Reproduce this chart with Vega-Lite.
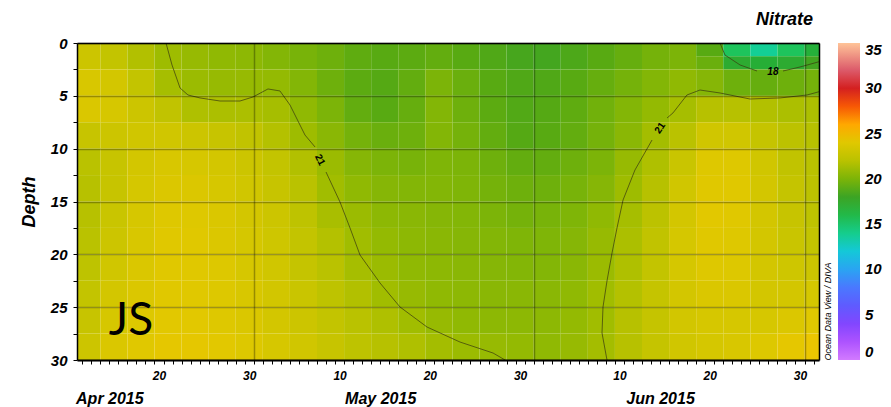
{
"$schema": "https://vega.github.io/schema/vega-lite/v6.json",
"width": 742, "height": 317,
"autosize": {"type": "none"},
"padding": {"left": 77, "top": 43, "right": 72, "bottom": 47},
"background": "white",
"config": {"view": {"stroke": null}, "font": "Liberation Sans"},
"title": {"text": "Nitrate", "anchor": "end", "frame": "group", "font": "Liberation Sans", "fontSize": 18, "fontWeight": "bold", "fontStyle": "italic", "color": "#000", "offset": 7, "dx": -6},
"resolve": {"axis": {"x": "independent", "y": "independent"}},
"datasets": {
"grid": [
{"d":"2015-04-11","e":"2015-04-14","z":0,"z2":2.5,"n":22.8},{"d":"2015-04-14","e":"2015-04-17","z":0,"z2":2.5,"n":22.4},{"d":"2015-04-17","e":"2015-04-20","z":0,"z2":2.5,"n":21.7},{"d":"2015-04-20","e":"2015-04-23","z":0,"z2":2.5,"n":21.0},{"d":"2015-04-23","e":"2015-04-26","z":0,"z2":2.5,"n":20.8},{"d":"2015-04-26","e":"2015-04-29","z":0,"z2":2.5,"n":20.6},{"d":"2015-04-29","e":"2015-05-02","z":0,"z2":2.5,"n":20.5},{"d":"2015-05-02","e":"2015-05-05","z":0,"z2":2.5,"n":20.2},{"d":"2015-05-05","e":"2015-05-08","z":0,"z2":2.5,"n":19.9},{"d":"2015-05-08","e":"2015-05-11","z":0,"z2":2.5,"n":19.6},{"d":"2015-05-11","e":"2015-05-14","z":0,"z2":2.5,"n":19.2},{"d":"2015-05-14","e":"2015-05-17","z":0,"z2":2.5,"n":19.0},{"d":"2015-05-17","e":"2015-05-20","z":0,"z2":2.5,"n":19.1},{"d":"2015-05-20","e":"2015-05-23","z":0,"z2":2.5,"n":19.3},{"d":"2015-05-23","e":"2015-05-26","z":0,"z2":2.5,"n":19.0},{"d":"2015-05-26","e":"2015-05-29","z":0,"z2":2.5,"n":18.7},{"d":"2015-05-29","e":"2015-06-01","z":0,"z2":2.5,"n":18.4},{"d":"2015-06-01","e":"2015-06-04","z":0,"z2":2.5,"n":18.3},{"d":"2015-06-04","e":"2015-06-07","z":0,"z2":2.5,"n":18.6},{"d":"2015-06-07","e":"2015-06-10","z":0,"z2":2.5,"n":19.0},{"d":"2015-06-10","e":"2015-06-13","z":0,"z2":2.5,"n":19.4},{"d":"2015-06-13","e":"2015-06-16","z":0,"z2":2.5,"n":19.8},{"d":"2015-06-16","e":"2015-06-19","z":0,"z2":2.5,"n":20.0},
{"d":"2015-06-19","e":"2015-06-22","z":0,"z2":1.25,"n":19.0},{"d":"2015-06-22","e":"2015-06-25","z":0,"z2":1.25,"n":15.0},{"d":"2015-06-25","e":"2015-06-28","z":0,"z2":1.25,"n":13.8},{"d":"2015-06-28","e":"2015-07-01","z":0,"z2":1.25,"n":15.0},{"d":"2015-07-01","e":"2015-07-04","z":0,"z2":1.25,"n":16.8},
{"d":"2015-06-19","e":"2015-06-22","z":1.25,"z2":2.5,"n":19.5},{"d":"2015-06-22","e":"2015-06-25","z":1.25,"z2":2.5,"n":17.3},{"d":"2015-06-25","e":"2015-06-28","z":1.25,"z2":2.5,"n":17.0},{"d":"2015-06-28","e":"2015-07-01","z":1.25,"z2":2.5,"n":17.3},{"d":"2015-07-01","e":"2015-07-04","z":1.25,"z2":2.5,"n":18.2},
{"d":"2015-04-11","e":"2015-04-14","z":2.5,"z2":5,"n":23.5},{"d":"2015-04-14","e":"2015-04-17","z":2.5,"z2":5,"n":23.2},{"d":"2015-04-17","e":"2015-04-20","z":2.5,"z2":5,"n":22.4},{"d":"2015-04-20","e":"2015-04-23","z":2.5,"z2":5,"n":21.3},{"d":"2015-04-23","e":"2015-04-26","z":2.5,"z2":5,"n":20.9},{"d":"2015-04-26","e":"2015-04-29","z":2.5,"z2":5,"n":20.8},{"d":"2015-04-29","e":"2015-05-02","z":2.5,"z2":5,"n":20.8},{"d":"2015-05-02","e":"2015-05-05","z":2.5,"z2":5,"n":20.7},{"d":"2015-05-05","e":"2015-05-08","z":2.5,"z2":5,"n":20.2},{"d":"2015-05-08","e":"2015-05-11","z":2.5,"z2":5,"n":19.6},{"d":"2015-05-11","e":"2015-05-14","z":2.5,"z2":5,"n":19.1},{"d":"2015-05-14","e":"2015-05-17","z":2.5,"z2":5,"n":18.9},{"d":"2015-05-17","e":"2015-05-20","z":2.5,"z2":5,"n":19.3},{"d":"2015-05-20","e":"2015-05-23","z":2.5,"z2":5,"n":20.0},{"d":"2015-05-23","e":"2015-05-26","z":2.5,"z2":5,"n":19.5},{"d":"2015-05-26","e":"2015-05-29","z":2.5,"z2":5,"n":19.0},{"d":"2015-05-29","e":"2015-06-01","z":2.5,"z2":5,"n":18.7},{"d":"2015-06-01","e":"2015-06-04","z":2.5,"z2":5,"n":18.7},{"d":"2015-06-04","e":"2015-06-07","z":2.5,"z2":5,"n":19.0},{"d":"2015-06-07","e":"2015-06-10","z":2.5,"z2":5,"n":19.4},{"d":"2015-06-10","e":"2015-06-13","z":2.5,"z2":5,"n":19.8},{"d":"2015-06-13","e":"2015-06-16","z":2.5,"z2":5,"n":20.2},{"d":"2015-06-16","e":"2015-06-19","z":2.5,"z2":5,"n":20.6},{"d":"2015-06-19","e":"2015-06-22","z":2.5,"z2":5,"n":20.3},{"d":"2015-06-22","e":"2015-06-25","z":2.5,"z2":5,"n":19.6},{"d":"2015-06-25","e":"2015-06-28","z":2.5,"z2":5,"n":19.4},{"d":"2015-06-28","e":"2015-07-01","z":2.5,"z2":5,"n":19.6},{"d":"2015-07-01","e":"2015-07-04","z":2.5,"z2":5,"n":19.8},
{"d":"2015-04-11","e":"2015-04-14","z":5,"z2":7.5,"n":23.6},{"d":"2015-04-14","e":"2015-04-17","z":5,"z2":7.5,"n":23.4},{"d":"2015-04-17","e":"2015-04-20","z":5,"z2":7.5,"n":22.8},{"d":"2015-04-20","e":"2015-04-23","z":5,"z2":7.5,"n":22.3},{"d":"2015-04-23","e":"2015-04-26","z":5,"z2":7.5,"n":21.6},{"d":"2015-04-26","e":"2015-04-29","z":5,"z2":7.5,"n":21.5},{"d":"2015-04-29","e":"2015-05-02","z":5,"z2":7.5,"n":21.5},{"d":"2015-05-02","e":"2015-05-05","z":5,"z2":7.5,"n":21.3},{"d":"2015-05-05","e":"2015-05-08","z":5,"z2":7.5,"n":20.6},{"d":"2015-05-08","e":"2015-05-11","z":5,"z2":7.5,"n":20.0},{"d":"2015-05-11","e":"2015-05-14","z":5,"z2":7.5,"n":19.3},{"d":"2015-05-14","e":"2015-05-17","z":5,"z2":7.5,"n":19.0},{"d":"2015-05-17","e":"2015-05-20","z":5,"z2":7.5,"n":19.4},{"d":"2015-05-20","e":"2015-05-23","z":5,"z2":7.5,"n":20.2},{"d":"2015-05-23","e":"2015-05-26","z":5,"z2":7.5,"n":19.6},{"d":"2015-05-26","e":"2015-05-29","z":5,"z2":7.5,"n":19.1},{"d":"2015-05-29","e":"2015-06-01","z":5,"z2":7.5,"n":18.8},{"d":"2015-06-01","e":"2015-06-04","z":5,"z2":7.5,"n":18.9},{"d":"2015-06-04","e":"2015-06-07","z":5,"z2":7.5,"n":19.2},{"d":"2015-06-07","e":"2015-06-10","z":5,"z2":7.5,"n":19.7},{"d":"2015-06-10","e":"2015-06-13","z":5,"z2":7.5,"n":20.2},{"d":"2015-06-13","e":"2015-06-16","z":5,"z2":7.5,"n":20.7},{"d":"2015-06-16","e":"2015-06-19","z":5,"z2":7.5,"n":21.3},{"d":"2015-06-19","e":"2015-06-22","z":5,"z2":7.5,"n":21.9},{"d":"2015-06-22","e":"2015-06-25","z":5,"z2":7.5,"n":21.9},{"d":"2015-06-25","e":"2015-06-28","z":5,"z2":7.5,"n":21.7},{"d":"2015-06-28","e":"2015-07-01","z":5,"z2":7.5,"n":21.5},{"d":"2015-07-01","e":"2015-07-04","z":5,"z2":7.5,"n":21.5},
{"d":"2015-04-11","e":"2015-04-14","z":7.5,"z2":10,"n":22.6},{"d":"2015-04-14","e":"2015-04-17","z":7.5,"z2":10,"n":22.8},{"d":"2015-04-17","e":"2015-04-20","z":7.5,"z2":10,"n":23.0},{"d":"2015-04-20","e":"2015-04-23","z":7.5,"z2":10,"n":23.0},{"d":"2015-04-23","e":"2015-04-26","z":7.5,"z2":10,"n":22.8},{"d":"2015-04-26","e":"2015-04-29","z":7.5,"z2":10,"n":22.6},{"d":"2015-04-29","e":"2015-05-02","z":7.5,"z2":10,"n":22.3},{"d":"2015-05-02","e":"2015-05-05","z":7.5,"z2":10,"n":21.8},{"d":"2015-05-05","e":"2015-05-08","z":7.5,"z2":10,"n":21.0},{"d":"2015-05-08","e":"2015-05-11","z":7.5,"z2":10,"n":20.4},{"d":"2015-05-11","e":"2015-05-14","z":7.5,"z2":10,"n":19.8},{"d":"2015-05-14","e":"2015-05-17","z":7.5,"z2":10,"n":19.5},{"d":"2015-05-17","e":"2015-05-20","z":7.5,"z2":10,"n":19.6},{"d":"2015-05-20","e":"2015-05-23","z":7.5,"z2":10,"n":20.2},{"d":"2015-05-23","e":"2015-05-26","z":7.5,"z2":10,"n":19.8},{"d":"2015-05-26","e":"2015-05-29","z":7.5,"z2":10,"n":19.3},{"d":"2015-05-29","e":"2015-06-01","z":7.5,"z2":10,"n":18.9},{"d":"2015-06-01","e":"2015-06-04","z":7.5,"z2":10,"n":19.0},{"d":"2015-06-04","e":"2015-06-07","z":7.5,"z2":10,"n":19.3},{"d":"2015-06-07","e":"2015-06-10","z":7.5,"z2":10,"n":19.8},{"d":"2015-06-10","e":"2015-06-13","z":7.5,"z2":10,"n":20.4},{"d":"2015-06-13","e":"2015-06-16","z":7.5,"z2":10,"n":21.2},{"d":"2015-06-16","e":"2015-06-19","z":7.5,"z2":10,"n":22.0},{"d":"2015-06-19","e":"2015-06-22","z":7.5,"z2":10,"n":23.0},{"d":"2015-06-22","e":"2015-06-25","z":7.5,"z2":10,"n":23.0},{"d":"2015-06-25","e":"2015-06-28","z":7.5,"z2":10,"n":22.5},{"d":"2015-06-28","e":"2015-07-01","z":7.5,"z2":10,"n":22.1},{"d":"2015-07-01","e":"2015-07-04","z":7.5,"z2":10,"n":21.9},
{"d":"2015-04-11","e":"2015-04-14","z":10,"z2":12.5,"n":22.0},{"d":"2015-04-14","e":"2015-04-17","z":10,"z2":12.5,"n":22.6},{"d":"2015-04-17","e":"2015-04-20","z":10,"z2":12.5,"n":23.2},{"d":"2015-04-20","e":"2015-04-23","z":10,"z2":12.5,"n":23.5},{"d":"2015-04-23","e":"2015-04-26","z":10,"z2":12.5,"n":23.4},{"d":"2015-04-26","e":"2015-04-29","z":10,"z2":12.5,"n":23.2},{"d":"2015-04-29","e":"2015-05-02","z":10,"z2":12.5,"n":22.8},{"d":"2015-05-02","e":"2015-05-05","z":10,"z2":12.5,"n":22.4},{"d":"2015-05-05","e":"2015-05-08","z":10,"z2":12.5,"n":21.7},{"d":"2015-05-08","e":"2015-05-11","z":10,"z2":12.5,"n":20.9},{"d":"2015-05-11","e":"2015-05-14","z":10,"z2":12.5,"n":20.3},{"d":"2015-05-14","e":"2015-05-17","z":10,"z2":12.5,"n":20.0},{"d":"2015-05-17","e":"2015-05-20","z":10,"z2":12.5,"n":19.9},{"d":"2015-05-20","e":"2015-05-23","z":10,"z2":12.5,"n":20.1},{"d":"2015-05-23","e":"2015-05-26","z":10,"z2":12.5,"n":20.0},{"d":"2015-05-26","e":"2015-05-29","z":10,"z2":12.5,"n":19.6},{"d":"2015-05-29","e":"2015-06-01","z":10,"z2":12.5,"n":19.3},{"d":"2015-06-01","e":"2015-06-04","z":10,"z2":12.5,"n":19.3},{"d":"2015-06-04","e":"2015-06-07","z":10,"z2":12.5,"n":19.6},{"d":"2015-06-07","e":"2015-06-10","z":10,"z2":12.5,"n":20.0},{"d":"2015-06-10","e":"2015-06-13","z":10,"z2":12.5,"n":20.8},{"d":"2015-06-13","e":"2015-06-16","z":10,"z2":12.5,"n":21.6},{"d":"2015-06-16","e":"2015-06-19","z":10,"z2":12.5,"n":22.7},{"d":"2015-06-19","e":"2015-06-22","z":10,"z2":12.5,"n":23.9},{"d":"2015-06-22","e":"2015-06-25","z":10,"z2":12.5,"n":23.9},{"d":"2015-06-25","e":"2015-06-28","z":10,"z2":12.5,"n":23.0},{"d":"2015-06-28","e":"2015-07-01","z":10,"z2":12.5,"n":22.3},{"d":"2015-07-01","e":"2015-07-04","z":10,"z2":12.5,"n":22.0},
{"d":"2015-04-11","e":"2015-04-14","z":12.5,"z2":15,"n":21.9},{"d":"2015-04-14","e":"2015-04-17","z":12.5,"z2":15,"n":22.6},{"d":"2015-04-17","e":"2015-04-20","z":12.5,"z2":15,"n":23.3},{"d":"2015-04-20","e":"2015-04-23","z":12.5,"z2":15,"n":23.7},{"d":"2015-04-23","e":"2015-04-26","z":12.5,"z2":15,"n":23.7},{"d":"2015-04-26","e":"2015-04-29","z":12.5,"z2":15,"n":23.4},{"d":"2015-04-29","e":"2015-05-02","z":12.5,"z2":15,"n":23.0},{"d":"2015-05-02","e":"2015-05-05","z":12.5,"z2":15,"n":22.6},{"d":"2015-05-05","e":"2015-05-08","z":12.5,"z2":15,"n":22.0},{"d":"2015-05-08","e":"2015-05-11","z":12.5,"z2":15,"n":21.1},{"d":"2015-05-11","e":"2015-05-14","z":12.5,"z2":15,"n":20.6},{"d":"2015-05-14","e":"2015-05-17","z":12.5,"z2":15,"n":20.3},{"d":"2015-05-17","e":"2015-05-20","z":12.5,"z2":15,"n":20.2},{"d":"2015-05-20","e":"2015-05-23","z":12.5,"z2":15,"n":20.2},{"d":"2015-05-23","e":"2015-05-26","z":12.5,"z2":15,"n":20.1},{"d":"2015-05-26","e":"2015-05-29","z":12.5,"z2":15,"n":19.8},{"d":"2015-05-29","e":"2015-06-01","z":12.5,"z2":15,"n":19.6},{"d":"2015-06-01","e":"2015-06-04","z":12.5,"z2":15,"n":19.6},{"d":"2015-06-04","e":"2015-06-07","z":12.5,"z2":15,"n":19.9},{"d":"2015-06-07","e":"2015-06-10","z":12.5,"z2":15,"n":20.3},{"d":"2015-06-10","e":"2015-06-13","z":12.5,"z2":15,"n":21.0},{"d":"2015-06-13","e":"2015-06-16","z":12.5,"z2":15,"n":21.9},{"d":"2015-06-16","e":"2015-06-19","z":12.5,"z2":15,"n":23.0},{"d":"2015-06-19","e":"2015-06-22","z":12.5,"z2":15,"n":24.0},{"d":"2015-06-22","e":"2015-06-25","z":12.5,"z2":15,"n":24.0},{"d":"2015-06-25","e":"2015-06-28","z":12.5,"z2":15,"n":23.2},{"d":"2015-06-28","e":"2015-07-01","z":12.5,"z2":15,"n":22.5},{"d":"2015-07-01","e":"2015-07-04","z":12.5,"z2":15,"n":22.1},
{"d":"2015-04-11","e":"2015-04-14","z":15,"z2":17.5,"n":21.9},{"d":"2015-04-14","e":"2015-04-17","z":15,"z2":17.5,"n":22.7},{"d":"2015-04-17","e":"2015-04-20","z":15,"z2":17.5,"n":23.4},{"d":"2015-04-20","e":"2015-04-23","z":15,"z2":17.5,"n":23.9},{"d":"2015-04-23","e":"2015-04-26","z":15,"z2":17.5,"n":23.9},{"d":"2015-04-26","e":"2015-04-29","z":15,"z2":17.5,"n":23.6},{"d":"2015-04-29","e":"2015-05-02","z":15,"z2":17.5,"n":23.2},{"d":"2015-05-02","e":"2015-05-05","z":15,"z2":17.5,"n":22.8},{"d":"2015-05-05","e":"2015-05-08","z":15,"z2":17.5,"n":22.2},{"d":"2015-05-08","e":"2015-05-11","z":15,"z2":17.5,"n":21.4},{"d":"2015-05-11","e":"2015-05-14","z":15,"z2":17.5,"n":20.9},{"d":"2015-05-14","e":"2015-05-17","z":15,"z2":17.5,"n":20.5},{"d":"2015-05-17","e":"2015-05-20","z":15,"z2":17.5,"n":20.4},{"d":"2015-05-20","e":"2015-05-23","z":15,"z2":17.5,"n":20.3},{"d":"2015-05-23","e":"2015-05-26","z":15,"z2":17.5,"n":20.2},{"d":"2015-05-26","e":"2015-05-29","z":15,"z2":17.5,"n":20.0},{"d":"2015-05-29","e":"2015-06-01","z":15,"z2":17.5,"n":19.8},{"d":"2015-06-01","e":"2015-06-04","z":15,"z2":17.5,"n":19.9},{"d":"2015-06-04","e":"2015-06-07","z":15,"z2":17.5,"n":20.1},{"d":"2015-06-07","e":"2015-06-10","z":15,"z2":17.5,"n":20.6},{"d":"2015-06-10","e":"2015-06-13","z":15,"z2":17.5,"n":21.3},{"d":"2015-06-13","e":"2015-06-16","z":15,"z2":17.5,"n":22.1},{"d":"2015-06-16","e":"2015-06-19","z":15,"z2":17.5,"n":23.2},{"d":"2015-06-19","e":"2015-06-22","z":15,"z2":17.5,"n":24.1},{"d":"2015-06-22","e":"2015-06-25","z":15,"z2":17.5,"n":24.0},{"d":"2015-06-25","e":"2015-06-28","z":15,"z2":17.5,"n":23.2},{"d":"2015-06-28","e":"2015-07-01","z":15,"z2":17.5,"n":22.6},{"d":"2015-07-01","e":"2015-07-04","z":15,"z2":17.5,"n":22.2},
{"d":"2015-04-11","e":"2015-04-14","z":17.5,"z2":20,"n":22.0},{"d":"2015-04-14","e":"2015-04-17","z":17.5,"z2":20,"n":22.8},{"d":"2015-04-17","e":"2015-04-20","z":17.5,"z2":20,"n":23.5},{"d":"2015-04-20","e":"2015-04-23","z":17.5,"z2":20,"n":24.0},{"d":"2015-04-23","e":"2015-04-26","z":17.5,"z2":20,"n":24.0},{"d":"2015-04-26","e":"2015-04-29","z":17.5,"z2":20,"n":23.7},{"d":"2015-04-29","e":"2015-05-02","z":17.5,"z2":20,"n":23.3},{"d":"2015-05-02","e":"2015-05-05","z":17.5,"z2":20,"n":22.9},{"d":"2015-05-05","e":"2015-05-08","z":17.5,"z2":20,"n":22.4},{"d":"2015-05-08","e":"2015-05-11","z":17.5,"z2":20,"n":21.8},{"d":"2015-05-11","e":"2015-05-14","z":17.5,"z2":20,"n":21.1},{"d":"2015-05-14","e":"2015-05-17","z":17.5,"z2":20,"n":20.7},{"d":"2015-05-17","e":"2015-05-20","z":17.5,"z2":20,"n":20.5},{"d":"2015-05-20","e":"2015-05-23","z":17.5,"z2":20,"n":20.4},{"d":"2015-05-23","e":"2015-05-26","z":17.5,"z2":20,"n":20.3},{"d":"2015-05-26","e":"2015-05-29","z":17.5,"z2":20,"n":20.2},{"d":"2015-05-29","e":"2015-06-01","z":17.5,"z2":20,"n":20.1},{"d":"2015-06-01","e":"2015-06-04","z":17.5,"z2":20,"n":20.1},{"d":"2015-06-04","e":"2015-06-07","z":17.5,"z2":20,"n":20.3},{"d":"2015-06-07","e":"2015-06-10","z":17.5,"z2":20,"n":20.8},{"d":"2015-06-10","e":"2015-06-13","z":17.5,"z2":20,"n":21.5},{"d":"2015-06-13","e":"2015-06-16","z":17.5,"z2":20,"n":22.3},{"d":"2015-06-16","e":"2015-06-19","z":17.5,"z2":20,"n":23.3},{"d":"2015-06-19","e":"2015-06-22","z":17.5,"z2":20,"n":24.0},{"d":"2015-06-22","e":"2015-06-25","z":17.5,"z2":20,"n":23.9},{"d":"2015-06-25","e":"2015-06-28","z":17.5,"z2":20,"n":23.2},{"d":"2015-06-28","e":"2015-07-01","z":17.5,"z2":20,"n":22.7},{"d":"2015-07-01","e":"2015-07-04","z":17.5,"z2":20,"n":22.4},
{"d":"2015-04-11","e":"2015-04-14","z":20,"z2":22.5,"n":22.2},{"d":"2015-04-14","e":"2015-04-17","z":20,"z2":22.5,"n":23.0},{"d":"2015-04-17","e":"2015-04-20","z":20,"z2":22.5,"n":23.6},{"d":"2015-04-20","e":"2015-04-23","z":20,"z2":22.5,"n":24.0},{"d":"2015-04-23","e":"2015-04-26","z":20,"z2":22.5,"n":24.0},{"d":"2015-04-26","e":"2015-04-29","z":20,"z2":22.5,"n":23.8},{"d":"2015-04-29","e":"2015-05-02","z":20,"z2":22.5,"n":23.4},{"d":"2015-05-02","e":"2015-05-05","z":20,"z2":22.5,"n":23.0},{"d":"2015-05-05","e":"2015-05-08","z":20,"z2":22.5,"n":22.5},{"d":"2015-05-08","e":"2015-05-11","z":20,"z2":22.5,"n":22.0},{"d":"2015-05-11","e":"2015-05-14","z":20,"z2":22.5,"n":21.3},{"d":"2015-05-14","e":"2015-05-17","z":20,"z2":22.5,"n":20.9},{"d":"2015-05-17","e":"2015-05-20","z":20,"z2":22.5,"n":20.6},{"d":"2015-05-20","e":"2015-05-23","z":20,"z2":22.5,"n":20.5},{"d":"2015-05-23","e":"2015-05-26","z":20,"z2":22.5,"n":20.4},{"d":"2015-05-26","e":"2015-05-29","z":20,"z2":22.5,"n":20.3},{"d":"2015-05-29","e":"2015-06-01","z":20,"z2":22.5,"n":20.2},{"d":"2015-06-01","e":"2015-06-04","z":20,"z2":22.5,"n":20.2},{"d":"2015-06-04","e":"2015-06-07","z":20,"z2":22.5,"n":20.4},{"d":"2015-06-07","e":"2015-06-10","z":20,"z2":22.5,"n":20.9},{"d":"2015-06-10","e":"2015-06-13","z":20,"z2":22.5,"n":21.6},{"d":"2015-06-13","e":"2015-06-16","z":20,"z2":22.5,"n":22.4},{"d":"2015-06-16","e":"2015-06-19","z":20,"z2":22.5,"n":23.3},{"d":"2015-06-19","e":"2015-06-22","z":20,"z2":22.5,"n":23.9},{"d":"2015-06-22","e":"2015-06-25","z":20,"z2":22.5,"n":23.8},{"d":"2015-06-25","e":"2015-06-28","z":20,"z2":22.5,"n":23.2},{"d":"2015-06-28","e":"2015-07-01","z":20,"z2":22.5,"n":22.9},{"d":"2015-07-01","e":"2015-07-04","z":20,"z2":22.5,"n":22.8},
{"d":"2015-04-11","e":"2015-04-14","z":22.5,"z2":25,"n":22.4},{"d":"2015-04-14","e":"2015-04-17","z":22.5,"z2":25,"n":23.2},{"d":"2015-04-17","e":"2015-04-20","z":22.5,"z2":25,"n":23.7},{"d":"2015-04-20","e":"2015-04-23","z":22.5,"z2":25,"n":24.0},{"d":"2015-04-23","e":"2015-04-26","z":22.5,"z2":25,"n":24.0},{"d":"2015-04-26","e":"2015-04-29","z":22.5,"z2":25,"n":23.8},{"d":"2015-04-29","e":"2015-05-02","z":22.5,"z2":25,"n":23.5},{"d":"2015-05-02","e":"2015-05-05","z":22.5,"z2":25,"n":23.1},{"d":"2015-05-05","e":"2015-05-08","z":22.5,"z2":25,"n":22.7},{"d":"2015-05-08","e":"2015-05-11","z":22.5,"z2":25,"n":22.2},{"d":"2015-05-11","e":"2015-05-14","z":22.5,"z2":25,"n":21.7},{"d":"2015-05-14","e":"2015-05-17","z":22.5,"z2":25,"n":21.1},{"d":"2015-05-17","e":"2015-05-20","z":22.5,"z2":25,"n":20.8},{"d":"2015-05-20","e":"2015-05-23","z":22.5,"z2":25,"n":20.6},{"d":"2015-05-23","e":"2015-05-26","z":22.5,"z2":25,"n":20.5},{"d":"2015-05-26","e":"2015-05-29","z":22.5,"z2":25,"n":20.4},{"d":"2015-05-29","e":"2015-06-01","z":22.5,"z2":25,"n":20.4},{"d":"2015-06-01","e":"2015-06-04","z":22.5,"z2":25,"n":20.4},{"d":"2015-06-04","e":"2015-06-07","z":22.5,"z2":25,"n":20.6},{"d":"2015-06-07","e":"2015-06-10","z":22.5,"z2":25,"n":21.1},{"d":"2015-06-10","e":"2015-06-13","z":22.5,"z2":25,"n":21.8},{"d":"2015-06-13","e":"2015-06-16","z":22.5,"z2":25,"n":22.5},{"d":"2015-06-16","e":"2015-06-19","z":22.5,"z2":25,"n":23.2},{"d":"2015-06-19","e":"2015-06-22","z":22.5,"z2":25,"n":23.6},{"d":"2015-06-22","e":"2015-06-25","z":22.5,"z2":25,"n":23.6},{"d":"2015-06-25","e":"2015-06-28","z":22.5,"z2":25,"n":23.2},{"d":"2015-06-28","e":"2015-07-01","z":22.5,"z2":25,"n":23.2},{"d":"2015-07-01","e":"2015-07-04","z":22.5,"z2":25,"n":23.3},
{"d":"2015-04-11","e":"2015-04-14","z":25,"z2":27.5,"n":22.6},{"d":"2015-04-14","e":"2015-04-17","z":25,"z2":27.5,"n":23.4},{"d":"2015-04-17","e":"2015-04-20","z":25,"z2":27.5,"n":23.8},{"d":"2015-04-20","e":"2015-04-23","z":25,"z2":27.5,"n":24.1},{"d":"2015-04-23","e":"2015-04-26","z":25,"z2":27.5,"n":24.1},{"d":"2015-04-26","e":"2015-04-29","z":25,"z2":27.5,"n":23.9},{"d":"2015-04-29","e":"2015-05-02","z":25,"z2":27.5,"n":23.6},{"d":"2015-05-02","e":"2015-05-05","z":25,"z2":27.5,"n":23.2},{"d":"2015-05-05","e":"2015-05-08","z":25,"z2":27.5,"n":22.8},{"d":"2015-05-08","e":"2015-05-11","z":25,"z2":27.5,"n":22.4},{"d":"2015-05-11","e":"2015-05-14","z":25,"z2":27.5,"n":22.0},{"d":"2015-05-14","e":"2015-05-17","z":25,"z2":27.5,"n":21.6},{"d":"2015-05-17","e":"2015-05-20","z":25,"z2":27.5,"n":21.1},{"d":"2015-05-20","e":"2015-05-23","z":25,"z2":27.5,"n":20.8},{"d":"2015-05-23","e":"2015-05-26","z":25,"z2":27.5,"n":20.6},{"d":"2015-05-26","e":"2015-05-29","z":25,"z2":27.5,"n":20.5},{"d":"2015-05-29","e":"2015-06-01","z":25,"z2":27.5,"n":20.5},{"d":"2015-06-01","e":"2015-06-04","z":25,"z2":27.5,"n":20.5},{"d":"2015-06-04","e":"2015-06-07","z":25,"z2":27.5,"n":20.7},{"d":"2015-06-07","e":"2015-06-10","z":25,"z2":27.5,"n":21.1},{"d":"2015-06-10","e":"2015-06-13","z":25,"z2":27.5,"n":21.9},{"d":"2015-06-13","e":"2015-06-16","z":25,"z2":27.5,"n":22.5},{"d":"2015-06-16","e":"2015-06-19","z":25,"z2":27.5,"n":23.1},{"d":"2015-06-19","e":"2015-06-22","z":25,"z2":27.5,"n":23.4},{"d":"2015-06-22","e":"2015-06-25","z":25,"z2":27.5,"n":23.4},{"d":"2015-06-25","e":"2015-06-28","z":25,"z2":27.5,"n":23.4},{"d":"2015-06-28","e":"2015-07-01","z":25,"z2":27.5,"n":23.7},{"d":"2015-07-01","e":"2015-07-04","z":25,"z2":27.5,"n":24.0},
{"d":"2015-04-11","e":"2015-04-14","z":27.5,"z2":30,"n":22.8},{"d":"2015-04-14","e":"2015-04-17","z":27.5,"z2":30,"n":23.6},{"d":"2015-04-17","e":"2015-04-20","z":27.5,"z2":30,"n":24.0},{"d":"2015-04-20","e":"2015-04-23","z":27.5,"z2":30,"n":24.3},{"d":"2015-04-23","e":"2015-04-26","z":27.5,"z2":30,"n":24.3},{"d":"2015-04-26","e":"2015-04-29","z":27.5,"z2":30,"n":24.1},{"d":"2015-04-29","e":"2015-05-02","z":27.5,"z2":30,"n":23.8},{"d":"2015-05-02","e":"2015-05-05","z":27.5,"z2":30,"n":23.4},{"d":"2015-05-05","e":"2015-05-08","z":27.5,"z2":30,"n":23.0},{"d":"2015-05-08","e":"2015-05-11","z":27.5,"z2":30,"n":22.6},{"d":"2015-05-11","e":"2015-05-14","z":27.5,"z2":30,"n":22.2},{"d":"2015-05-14","e":"2015-05-17","z":27.5,"z2":30,"n":21.9},{"d":"2015-05-17","e":"2015-05-20","z":27.5,"z2":30,"n":21.6},{"d":"2015-05-20","e":"2015-05-23","z":27.5,"z2":30,"n":21.2},{"d":"2015-05-23","e":"2015-05-26","z":27.5,"z2":30,"n":20.9},{"d":"2015-05-26","e":"2015-05-29","z":27.5,"z2":30,"n":20.8},{"d":"2015-05-29","e":"2015-06-01","z":27.5,"z2":30,"n":20.7},{"d":"2015-06-01","e":"2015-06-04","z":27.5,"z2":30,"n":20.6},{"d":"2015-06-04","e":"2015-06-07","z":27.5,"z2":30,"n":20.8},{"d":"2015-06-07","e":"2015-06-10","z":27.5,"z2":30,"n":21.2},{"d":"2015-06-10","e":"2015-06-13","z":27.5,"z2":30,"n":21.9},{"d":"2015-06-13","e":"2015-06-16","z":27.5,"z2":30,"n":22.5},{"d":"2015-06-16","e":"2015-06-19","z":27.5,"z2":30,"n":23.0},{"d":"2015-06-19","e":"2015-06-22","z":27.5,"z2":30,"n":23.3},{"d":"2015-06-22","e":"2015-06-25","z":27.5,"z2":30,"n":23.5},{"d":"2015-06-25","e":"2015-06-28","z":27.5,"z2":30,"n":23.8},{"d":"2015-06-28","e":"2015-07-01","z":27.5,"z2":30,"n":24.3},{"d":"2015-07-01","e":"2015-07-04","z":27.5,"z2":30,"n":24.6}
],
"lines": [
{"id":"A1","o":1,"d":"2015-04-21T06:36Z","z":0},{"id":"A1","o":2,"d":"2015-04-21T22:34Z","z":2.08},{"id":"A1","o":3,"d":"2015-04-22T19:55Z","z":4.26},{"id":"A1","o":4,"d":"2015-04-23T17:00Z","z":4.92},{"id":"A1","o":5,"d":"2015-04-25T01:00Z","z":5.2},{"id":"A1","o":6,"d":"2015-04-27T06:15Z","z":5.49},{"id":"A1","o":7,"d":"2015-04-29T11:15Z","z":5.49},{"id":"A1","o":8,"d":"2015-04-30T21:50Z","z":5.11},{"id":"A1","o":9,"d":"2015-05-02T13:40Z","z":4.35},{"id":"A1","o":10,"d":"2015-05-03T21:35Z","z":4.54},{"id":"A1","o":11,"d":"2015-05-05T00:15Z","z":5.87},{"id":"A1","o":12,"d":"2015-05-06T16:05Z","z":8.71},{"id":"A1","o":13,"d":"2015-05-07T18:45Z","z":9.84},
{"id":"A2","o":1,"d":"2015-05-09T00:00Z","z":12.21},{"id":"A2","o":2,"d":"2015-05-10T13:10Z","z":15.05},{"id":"A2","o":3,"d":"2015-05-11T15:50Z","z":17.51},{"id":"A2","o":4,"d":"2015-05-12T18:15Z","z":20.06},{"id":"A2","o":5,"d":"2015-05-14T23:30Z","z":22.71},{"id":"A2","o":6,"d":"2015-05-17T04:35Z","z":24.98},{"id":"A2","o":7,"d":"2015-05-20T04:35Z","z":26.88},{"id":"A2","o":8,"d":"2015-05-23T20:10Z","z":28.3},{"id":"A2","o":9,"d":"2015-05-27T12:00Z","z":29.34},{"id":"A2","o":10,"d":"2015-05-28T20:00Z","z":30},
{"id":"B1","o":1,"d":"2015-06-09T02:55Z","z":30},{"id":"B1","o":2,"d":"2015-06-08T13:40Z","z":27.44},{"id":"B1","o":3,"d":"2015-06-08T16:20Z","z":24.98},{"id":"B1","o":4,"d":"2015-06-09T02:55Z","z":22.52},{"id":"B1","o":5,"d":"2015-06-09T16:20Z","z":19.87},{"id":"B1","o":6,"d":"2015-06-10T05:30Z","z":17.51},{"id":"B1","o":7,"d":"2015-06-10T21:35Z","z":14.86},{"id":"B1","o":8,"d":"2015-06-12T05:15Z","z":12.02},{"id":"B1","o":9,"d":"2015-06-14T02:40Z","z":9.18},
{"id":"B2","o":1,"d":"2015-06-15T18:30Z","z":7.1},{"id":"B2","o":2,"d":"2015-06-16T10:20Z","z":6.62},{"id":"B2","o":3,"d":"2015-06-17T23:30Z","z":4.92},{"id":"B2","o":4,"d":"2015-06-19T10:05Z","z":4.45},{"id":"B2","o":5,"d":"2015-06-21T15:20Z","z":4.73},{"id":"B2","o":6,"d":"2015-06-24T23:00Z","z":5.3},{"id":"B2","o":7,"d":"2015-06-28T07:00Z","z":5.2},{"id":"B2","o":8,"d":"2015-07-01T06:45Z","z":4.92},{"id":"B2","o":9,"d":"2015-07-02T22:00Z","z":4.54},
{"id":"C1","o":1,"d":"2015-06-21T15:20Z","z":0},{"id":"C1","o":2,"d":"2015-06-22T04:35Z","z":1.14},{"id":"C1","o":3,"d":"2015-06-23T20:40Z","z":2.08},{"id":"C1","o":4,"d":"2015-06-25T17:45Z","z":2.65},
{"id":"C2","o":1,"d":"2015-06-28T14:50Z","z":2.65},{"id":"C2","o":2,"d":"2015-06-30T12:00Z","z":2.27},{"id":"C2","o":3,"d":"2015-07-02T22:00Z","z":1.7}
]
},
"layer": [
{"data": {"name": "grid"},
 "mark": {"type": "rect", "clip": true, "opacity": 1},
 "encoding": {
  "x": {"field": "d", "type": "temporal",
   "scale": {"type": "utc", "domain": [{"year": 2015, "month": 4, "date": 11, "hours": 10, "utc": true}, {"year": 2015, "month": 7, "date": 2, "hours": 14, "minutes": 30, "utc": true}]},
   "axis": {"title": null, "zindex": 1, "tickCount": {"interval": "day", "step": 1},
    "labelExpr": "utcdate(datum.value) == 15 ? ['', utcFormat(datum.value, '%b %Y')] : (utcdate(datum.value) % 10 == 0 ? utcFormat(datum.value, '%d') : '')",
    "labelOverlap": false, "labelFlush": false, "labelBound": false,
    "labelFont": "Liberation Sans", "labelFontWeight": "bold", "labelFontStyle": "italic", "labelColor": "#000",
    "labelFontSize": {"condition": {"test": "utcdate(datum.value) == 15", "value": 16}, "value": 12},
    "labelOffset": {"condition": {"test": "utcdate(datum.value) == 15", "value": 0}, "value": 4.5},
    "labelLineHeight": 20, "labelPadding": 6,
    "tickSize": 4, "tickColor": "#000", "tickWidth": 1,
    "domain": true, "domainColor": "#000", "domainWidth": 2,
    "grid": true, "gridColor": "#000", "gridWidth": 1.5,
    "gridOpacity": {"condition": {"test": "utcdate(datum.value) == 1", "value": 0.3}, "value": 0}}},
  "x2": {"field": "e"},
  "y": {"field": "z", "type": "quantitative",
   "scale": {"domain": [0, 30], "reverse": true, "nice": false, "zero": false},
   "axis": {"title": "Depth", "zindex": 1, "values": [0, 2.5, 5, 7.5, 10, 12.5, 15, 17.5, 20, 22.5, 25, 27.5, 30],
    "labelExpr": "datum.value % 5 == 0 ? format(datum.value, 'd') : ''",
    "labelFont": "Liberation Sans", "labelFontWeight": "bold", "labelFontStyle": "italic", "labelFontSize": 15, "labelColor": "#000",
    "labelPadding": 6, "tickSize": 4, "tickColor": "#000",
    "domain": true, "domainColor": "#000", "domainWidth": 1.5,
    "grid": true, "gridColor": "#000", "gridWidth": 1.5,
    "gridOpacity": {"condition": {"test": "datum.value % 5 == 0", "value": 0.3}, "value": 0},
    "titleFont": "Liberation Sans", "titleFontSize": 18, "titleFontWeight": "bold", "titleFontStyle": "italic", "titleColor": "#000", "titlePadding": 12}},
  "y2": {"field": "z2"},
  "color": {"field": "n", "type": "quantitative",
   "scale": {"type": "linear", "domain": [0,3,5,8,10,12,13.5,15,17,18,19,20,21,22,23,24,25,26,27.5,29,30,32,35], "range": ["#d27aff","#9a40ff","#6a4cff","#4a78ff","#2aa4f2","#14c8d8","#10d2a4","#1ec45c","#26ae36","#3ca424","#58aa12","#7cb408","#9ebc00","#bac200","#d0c600","#e0c800","#f2c400","#ffa800","#ff6c00","#e83010","#d42020","#dc5a6a","#ffc498"], "interpolate": "rgb", "nice": false, "zero": false, "clamp": true},
   "legend": {"type": "gradient", "direction": "vertical", "orient": "none", "legendX": 761, "legendY": 0, "padding": 0, "title": null,
    "gradientLength": 317, "gradientThickness": 22, "gradientStrokeWidth": 0, "gradientOpacity": 1,
    "values": [0, 5, 10, 15, 20, 25, 30, 35],
    "labelFont": "Liberation Sans", "labelFontSize": 15, "labelFontWeight": "bold", "labelFontStyle": "italic", "labelColor": "#000", "labelOffset": 5, "labelOverlap": false, "labelBaseline": "middle"}}
 }},
{"data": {"name": "lines"},
 "mark": {"type": "line", "clip": true, "color": "#3a3a10", "strokeWidth": 0.9, "opacity": 0.8},
 "encoding": {
  "x": {"field": "d", "type": "temporal", "axis": {"orient": "top", "title": null, "labels": false, "ticks": false, "grid": false, "domain": true, "domainColor": "#000", "domainWidth": 1.5, "zindex": 1}},
  "y": {"field": "z", "type": "quantitative", "axis": {"orient": "right", "labels": false, "ticks": false, "grid": false, "domain": true, "domainColor": "#000", "domainWidth": 1.5, "zindex": 1,
   "title": "Ocean Data View / DIVA", "titleAngle": 270, "titleAnchor": "end", "titleAlign": "left", "titleBaseline": "top", "titlePadding": 4,
   "titleFont": "Liberation Sans", "titleFontSize": 9, "titleFontWeight": "normal", "titleFontStyle": "italic", "titleColor": "#000"}},
  "detail": {"field": "id"}, "order": {"field": "o", "type": "quantitative"}}},
{"data": {"values": [{"d": "2015-05-08T08:00Z", "z": 11.07, "t": "21"}]},
 "mark": {"type": "text", "angle": 64, "font": "Liberation Sans", "fontSize": 10, "fontWeight": "bold", "color": "#000"},
 "encoding": {"x": {"field": "d", "type": "temporal", "axis": null}, "y": {"field": "z", "type": "quantitative", "axis": null}, "text": {"field": "t"}}},
{"data": {"values": [{"d": "2015-06-14T23:50Z", "z": 8.04, "t": "21"}]},
 "mark": {"type": "text", "angle": -56, "font": "Liberation Sans", "fontSize": 10, "fontWeight": "bold", "color": "#000"},
 "encoding": {"x": {"field": "d", "type": "temporal", "axis": null}, "y": {"field": "z", "type": "quantitative", "axis": null}, "text": {"field": "t"}}},
{"data": {"values": [{"d": "2015-06-27T12:00Z", "z": 2.74, "t": "18"}]},
 "mark": {"type": "text", "font": "Liberation Sans", "fontSize": 10, "fontWeight": "bold", "fontStyle": "italic", "color": "#000"},
 "encoding": {"x": {"field": "d", "type": "temporal", "axis": null}, "y": {"field": "z", "type": "quantitative", "axis": null}, "text": {"field": "t"}}},
{"data": {"values": [{"d": "2015-04-17T09:40Z", "z": 27.63, "t": "JS"}]},
 "mark": {"type": "text", "font": "Lato", "fontSize": 46, "baseline": "alphabetic", "align": "center", "color": "#000"},
 "encoding": {"x": {"field": "d", "type": "temporal", "axis": null}, "y": {"field": "z", "type": "quantitative", "axis": null}, "text": {"field": "t"}}}
]
}
